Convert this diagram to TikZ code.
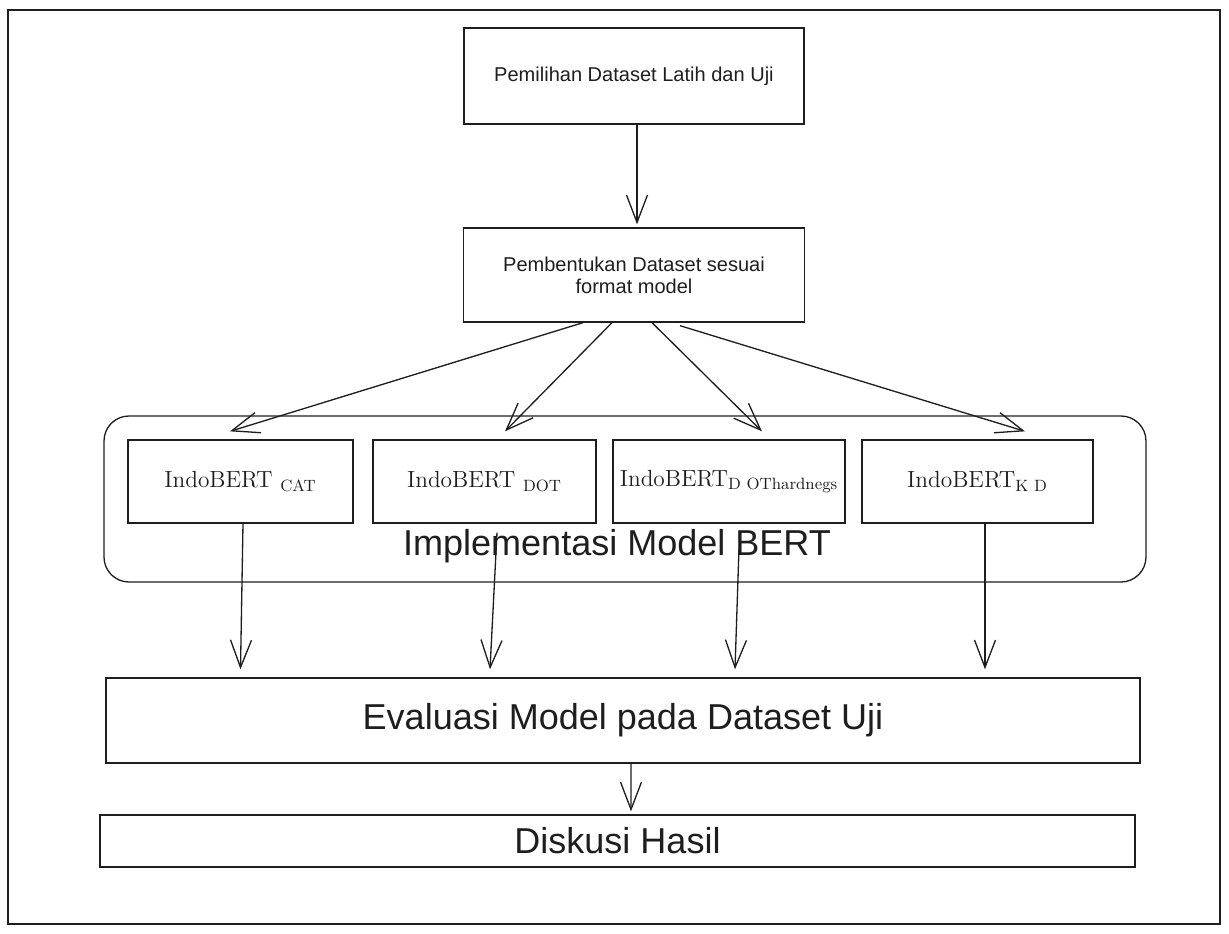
\documentclass[tikz,border=0pt]{standalone}
\usepackage{fontspec}
\setsansfont{Liberation Sans}
\usepackage{tikz}
\usetikzlibrary{shapes.geometric, arrows.meta}
\usetikzlibrary{positioning}
\definecolor{ink}{HTML}{1E1E1E}
\tikzstyle{box1} = [rectangle, draw=ink, line width=0.75pt, text=ink, text centered, align=center, inner sep=0pt, font=\sffamily\fontsize{11.4}{12.5}\selectfont]
\tikzstyle{box2} = [rectangle, draw=ink, line width=0.75pt, text=ink, minimum height=1.66cm, text centered, inner sep=0pt, font=\fontsize{13.3}{16}\selectfont]
\tikzstyle{bigbox} = [rectangle, draw=ink, line width=0.75pt, text=ink, text centered, inner sep=0pt, font=\sffamily\fontsize{20.5}{24}\selectfont]
\tikzstyle{arrow} = [draw=ink, line width=0.75pt, ->, >={Straight Barb[length=5.5mm,width=4.2mm]}]

\begin{document}
\begin{tikzpicture}[node distance=3.98cm]
	\useasboundingbox (0,0) rectangle (24.58,-18.68);
	\draw [ink, line width=0.75pt] (0.16,-0.2) rectangle (24.4,-18.48);
	
	\node (pilih) [box1, minimum width=6.8cm, minimum height=1.92cm] at (12.68,-1.52) {
		Pemilihan Dataset Latih dan Uji};
	\node (bentuk) [box1, below of=pilih, minimum width=6.82cm, minimum height=1.88cm] {
		Pembentukan Dataset sesuai\\
		format model};
	
	% kelompok model
	\node (grup) [rectangle, rounded corners=0.5cm, draw=ink, line width=0.75pt, minimum width=20.84cm, minimum height=3.32cm] at (12.5,-9.98) {};
	\node (cat) [box2, below of=bentuk, minimum width=4.5cm, xshift=-7.87cm, yshift=-0.15cm] {IndoBERT \textsubscript{CAT}};
	\node (dot) [box2, below of=bentuk, minimum width=4.46cm, xshift=-2.99cm, yshift=-0.15cm] {IndoBERT \textsubscript{DOT}};
	\node (doth) [box2, below of=bentuk, minimum width=4.64cm, xshift=1.9cm, yshift=-0.15cm] {IndoBERT\textsubscript{D OThardnegs}};
	\node (kd) [box2, below of=bentuk, minimum width=4.62cm, xshift=6.87cm, yshift=-0.15cm] {IndoBERT\textsubscript{K D}};
	\node (implabel) [text=ink, font=\sffamily\fontsize{20.5}{24}\selectfont] at (12.34,-10.92) {Implementasi Model BERT};
	
	\node (eval) [bigbox, minimum width=20.68cm, minimum height=1.7cm] at (12.46,-14.41) {Evaluasi Model pada Dataset Uji};
	\node (diskusi) [bigbox, minimum width=20.7cm, minimum height=1.04cm] at (12.35,-16.82) {Diskusi Hasil};
	
	\draw [arrow] ([xshift=0.06cm]pilih.south) -- ([xshift=0.06cm, yshift=0.06cm]bentuk.north);
	\draw [arrow] ([xshift=-1.02cm]bentuk.south) -- ([xshift=-0.21cm, yshift=0.16cm]cat.north);
	\draw [arrow] ([xshift=-0.44cm]bentuk.south) -- ([xshift=0.41cm, yshift=0.16cm]dot.north);
	\draw [arrow] ([xshift=0.36cm]bentuk.south) -- ([xshift=0.66cm, yshift=0.16cm]doth.north);
	\draw [arrow] ([xshift=0.92cm, yshift=-0.06cm]bentuk.south) -- ([xshift=0.95cm, yshift=0.16cm]kd.north);
	\draw [arrow] ([xshift=0.05cm]cat.south) -- ([yshift=0.16cm]eval.north -| cat.south);
	\draw [arrow] ([xshift=0.25cm, yshift=-0.18cm]dot.south) -- ([xshift=0.11cm, yshift=0.16cm]eval.north -| dot.south);
	\draw [arrow] ([xshift=0.2cm, yshift=-0.5cm]doth.south) -- ([xshift=0.12cm, yshift=0.16cm]eval.north -| doth.south);
	\draw [arrow] ([xshift=0.15cm]kd.south) -- ([xshift=0.15cm, yshift=0.16cm]eval.north -| kd.south);
	\draw [arrow] ([xshift=0.16cm]eval.south) -- ([xshift=0.27cm, yshift=0.06cm]diskusi.north);
\end{tikzpicture}
\end{document}
